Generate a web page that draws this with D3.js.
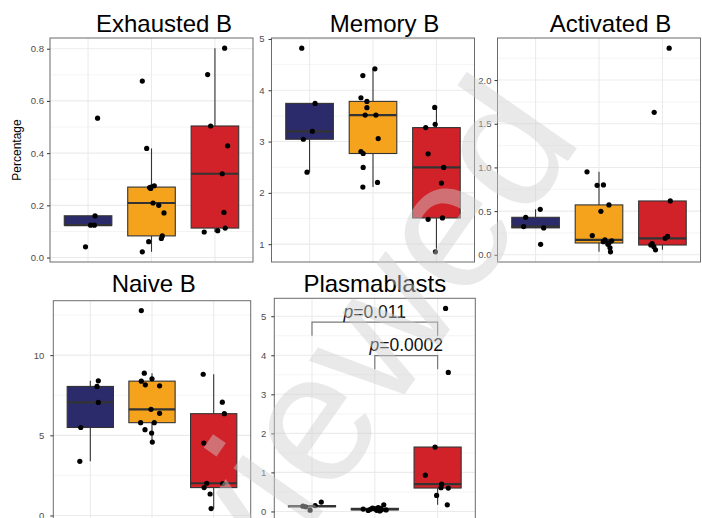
<!DOCTYPE html>
<html>
<head>
<meta charset="utf-8">
<script src="https://cdn.jsdelivr.net/npm/d3@7"></script>
<style>
  body { margin: 0; background: #fff; }
  svg { display: block; }
  text { font-family: "Liberation Sans", Arial, Helvetica, sans-serif; }
</style>
</head>
<body>
<svg id="chart" width="702" height="518"></svg>
<script>
// ---- groups -------------------------------------------------------------
const groups = ["Group 1", "Group 2", "Group 3"];
const groupColors = ["#2B2A6B", "#F5A31D", "#D12229"];

// ---- per-panel values (percentage of B cells), one array per group ------
const exhaustedB = [
  [0.534, 0.160, 0.124, 0.124, 0.041],
  [0.676, 0.418, 0.275, 0.270, 0.268, 0.265, 0.209, 0.200, 0.171, 0.083, 0.073, 0.061, 0.022],
  [0.802, 0.701, 0.504, 0.428, 0.321, 0.173, 0.113, 0.103, 0.098]
];
const memoryB = [
  [4.82, 3.744, 3.200, 3.045, 2.404],
  [4.417, 4.287, 3.854, 3.783, 3.660, 3.517, 3.517, 3.058, 2.806, 2.767, 2.495, 2.204, 2.113],
  [3.665, 3.336, 3.272, 2.760, 2.495, 2.190, 1.511, 1.485, 0.851]
];
const activatedB = [
  [0.520, 0.429, 0.323, 0.308, 0.120],
  [0.950, 0.800, 0.795, 0.571, 0.497, 0.220, 0.170, 0.160, 0.150, 0.135, 0.120, 0.080, 0.034],
  [2.365, 1.631, 0.616, 0.210, 0.189, 0.128, 0.112, 0.091, 0.057]
];
const naiveB = [
  [8.40, 8.05, 7.05, 5.49, 3.38],
  [12.78, 8.88, 8.53, 8.38, 8.15, 8.09, 6.62, 6.37, 5.79, 5.79, 5.35, 5.14, 4.58],
  [8.81, 7.07, 6.35, 4.52, 2.01, 1.99, 1.74, 1.34, 0.43]
];
const plasmablasts = [
  [0.24, 0.15, 0.135, 0.12, 0.033],
  [0.169, 0.10, 0.085, 0.08, 0.075, 0.065, 0.06, 0.055, 0.045, 0.04, 0.03, 0.025, 0.015],
  [5.20, 3.56, 1.65, 0.93, 0.70, 0.61, 0.60, 0.41, 0.17]
];

// ---- horizontal jitter of each point (fraction of category spacing) ----
const exhaustedBJitter = [
  [0.15, 0.11, 0.04, 0.10, -0.04],
  [-0.145, -0.076, 0.044, -0.008, -0.03, -0.013, 0.024, 0.114, 0.197, 0.17, 0.155, -0.044, -0.145],
  [0.153, -0.115, -0.068, 0.2, 0.115, 0.142, 0.162, 0.043, -0.169]
];
const memoryBJitter = [
  [-0.123, 0.087, 0.044, -0.098, -0.04],
  [0.03, -0.16, -0.19, -0.096, -0.096, -0.123, 0.046, 0.082, -0.19, -0.155, -0.155, 0.071, -0.16],
  [-0.027, -0.02, -0.169, -0.131, 0.115, 0.079, 0.095, -0.131, -0.016]
];
const activatedBJitter = [
  [0.074, -0.156, -0.187, 0.128, 0.08],
  [-0.189, 0.07, -0.03, 0.157, 0.03, -0.106, 0.094, 0.2, 0.068, 0.157, 0.14, 0.173, 0.181],
  [0.106, -0.13, 0.124, 0.08, 0.043, -0.162, -0.183, -0.135, -0.109]
];
const naiveBJitter = [
  [0.13, 0.108, 0.13, -0.155, -0.17],
  [-0.173, -0.125, 0, -0.173, -0.108, 0.123, -0.016, 0.123, -0.184, 0.037, -0.113, -0.006, 0.005],
  [-0.17, 0.14, 0.173, -0.16, -0.113, 0.146, -0.155, -0.058, -0.042]
];
const plasmablastsJitter = [
  [0.148, 0.05, -0.145, -0.1, -0.03],
  [0.143, 0.054, -0.037, 0.09, -0.016, 0.02, -0.185, -0.07, 0.107, 0.18, 0.03, -0.105, 0.08],
  [0.127, 0.17, -0.041, -0.196, 0.064, 0.054, 0.17, -0.016, 0.154]
];

// ---- y-axis tick values -------------------------------------------------
const exhaustedBTicks = [0, 0.2, 0.4, 0.6, 0.8];
const memoryBTicks = [1, 2, 3, 4, 5];
const activatedBTicks = [0, 0.5, 1, 1.5, 2];
const naiveBTicks = [0, 5, 10];
const plasmablastsTicks = [0, 1, 2, 3, 4, 5];

// ---- pairwise tests shown on the plasmablast panel ----------------------
const plasmaComparisons = [
  { from: 0, to: 2, y: 4.85, p: "0.011" },
  { from: 1, to: 2, y: 3.99, p: "0.0002" }
];
const bracketTip = 0.35;

// ---- panel layout -------------------------------------------------------
const panels = [
  { title: "Exhausted B", values: exhaustedB, jitter: exhaustedBJitter, ticks: exhaustedBTicks, fmt: ".1f",
    x0: 50, x1: 253, y0: 38, y1: 262, titleX: 164, titleY: 32, pad: 3, ylab: "Percentage" },
  { title: "Memory B", values: memoryB, jitter: memoryBJitter, ticks: memoryBTicks, fmt: "d",
    x0: 271.5, x1: 474.5, y0: 38, y1: 262, titleX: 384.5, titleY: 32, pad: 4 },
  { title: "Activated B", values: activatedB, jitter: activatedBJitter, ticks: activatedBTicks, fmt: ".1f",
    x0: 497.5, x1: 700.5, y0: 38, y1: 262, titleX: 610.5, titleY: 32, pad: 3 },
  { title: "Naive B", values: naiveB, jitter: naiveBJitter, ticks: naiveBTicks, fmt: "d",
    x0: 53.3, x1: 250.7, y0: 300.7, y1: 518.5, titleX: 153.7, titleY: 292, pad: 6 },
  { title: "Plasmablasts", values: plasmablasts, jitter: plasmablastsJitter, ticks: plasmablastsTicks, fmt: "d",
    x0: 274.3, x1: 475.3, y0: 298.3, y1: 521, titleX: 374.8, titleY: 292, pad: 5,
    comparisons: plasmaComparisons }
];

const svg = d3.select("#chart");
const gridColor = "#EBEBEB";
const inkColor = "#333333";

function boxStats(vals) {
  const s = vals.slice().sort(d3.ascending);
  const q1 = d3.quantile(s, 0.25), med = d3.quantile(s, 0.5), q3 = d3.quantile(s, 0.75);
  const iqr = q3 - q1;
  const lo = d3.min(s.filter(v => v >= q1 - 1.5 * iqr));
  const hi = d3.max(s.filter(v => v <= q3 + 1.5 * iqr));
  return { q1, med, q3, lo, hi };
}

panels.forEach((p, pi) => {
  const all = p.values.flat();
  const [mn, mx] = d3.extent(all);
  const padY = (mx - mn) * 0.05;
  const y = d3.scaleLinear().domain([mn - padY, mx + padY]).range([p.y1, p.y0]);
  // discrete x with 0.6 units of padding on each side
  const x = d3.scaleLinear().domain([-0.6, groups.length - 0.4]).range([p.x0, p.x1]);
  const step = x(1) - x(0);

  const clipId = "clip" + pi;
  svg.append("clipPath").attr("id", clipId)
    .append("rect").attr("x", p.x0).attr("y", p.y0)
    .attr("width", p.x1 - p.x0).attr("height", p.y1 - p.y0);

  const g = svg.append("g");
  const inner = g.append("g").attr("clip-path", `url(#${clipId})`);

  inner.append("rect").attr("x", p.x0).attr("y", p.y0)
    .attr("width", p.x1 - p.x0).attr("height", p.y1 - p.y0).attr("fill", "#fff");

  // minor horizontal grid
  const tStep = p.ticks[1] - p.ticks[0];
  const minor = [];
  for (let t = p.ticks[0] - tStep / 2; t <= y.domain()[1]; t += tStep) {
    if (t >= y.domain()[0]) minor.push(t);
  }
  inner.selectAll(".minor").data(minor).join("line")
    .attr("x1", p.x0).attr("x2", p.x1)
    .attr("y1", d => y(d)).attr("y2", d => y(d))
    .attr("stroke", gridColor).attr("stroke-width", 0.55);

  // major grid
  inner.selectAll(".major").data(p.ticks).join("line")
    .attr("x1", p.x0).attr("x2", p.x1)
    .attr("y1", d => y(d)).attr("y2", d => y(d))
    .attr("stroke", gridColor).attr("stroke-width", 1.1);
  inner.selectAll(".vmajor").data(groups).join("line")
    .attr("x1", (d, i) => x(i)).attr("x2", (d, i) => x(i))
    .attr("y1", p.y0).attr("y2", p.y1)
    .attr("stroke", gridColor).attr("stroke-width", 1.1);

  // boxes
  const stats = p.values.map(boxStats);
  const bw = step * 0.75;
  stats.forEach((s, i) => {
    inner.append("line")
      .attr("x1", x(i)).attr("x2", x(i))
      .attr("y1", y(s.hi)).attr("y2", y(s.q3))
      .attr("stroke", inkColor).attr("stroke-width", 1.1);
    inner.append("line")
      .attr("x1", x(i)).attr("x2", x(i))
      .attr("y1", y(s.q1)).attr("y2", y(s.lo))
      .attr("stroke", inkColor).attr("stroke-width", 1.1);
    inner.append("rect")
      .attr("x", x(i) - bw / 2).attr("width", bw)
      .attr("y", y(s.q3)).attr("height", Math.max(0.5, y(s.q1) - y(s.q3)))
      .attr("fill", groupColors[i]).attr("stroke", inkColor).attr("stroke-width", 1.1);
    inner.append("line")
      .attr("x1", x(i) - bw / 2).attr("x2", x(i) + bw / 2)
      .attr("y1", y(s.med)).attr("y2", y(s.med))
      .attr("stroke", inkColor).attr("stroke-width", 2.2);
  });

  // jittered points
  const pts = [];
  p.values.forEach((arr, i) => arr.forEach((v, k) => pts.push({ i, v, j: p.jitter[i][k] })));
  inner.selectAll(".pt").data(pts).join("circle")
    .attr("cx", d => x(d.i + d.j)).attr("cy", d => y(d.v))
    .attr("r", 2.6).attr("fill", "#000");

  // panel border
  g.append("rect").attr("x", p.x0).attr("y", p.y0)
    .attr("width", p.x1 - p.x0).attr("height", p.y1 - p.y0)
    .attr("fill", "none").attr("stroke", "#6b6b6b").attr("stroke-width", 1);

  // y axis
  const axis = d3.axisLeft(y).tickValues(p.ticks).tickSize(3).tickPadding(p.pad)
    .tickFormat(d3.format(p.fmt));
  const ax = g.append("g").attr("transform", `translate(${p.x0},0)`).call(axis);
  ax.select(".domain").remove();
  ax.selectAll(".tick line").attr("stroke", inkColor).attr("stroke-width", 1);
  ax.selectAll(".tick text").attr("fill", "#4D4D4D").attr("font-size", "9.5px")
    .attr("font-family", "'Liberation Sans', Arial, Helvetica, sans-serif");

  // title
  g.append("text").attr("x", p.titleX).attr("y", p.titleY)
    .attr("text-anchor", "middle").attr("font-size", "24px").attr("fill", "#000")
    .text(p.title);

  if (p.ylab) {
    g.append("text")
      .attr("transform", `translate(21,${(p.y0 + p.y1) / 2}) rotate(-90)`)
      .attr("text-anchor", "middle").attr("font-size", "12px").attr("fill", "#000")
      .text(p.ylab);
  }

  // significance brackets
  (p.comparisons || []).forEach(c => {
    const xa = x(c.from), xb = x(c.to);
    g.append("path")
      .attr("d", `M${xa},${y(c.y - bracketTip)}V${y(c.y)}H${xb}V${y(c.y - bracketTip)}`)
      .attr("fill", "none").attr("stroke", "#7a7a7a").attr("stroke-width", 1.2);
    const t = g.append("text")
      .attr("x", (xa + xb) / 2).attr("y", y(c.y) - 4.5)
      .attr("text-anchor", "middle").attr("font-size", "17.5px").attr("fill", "#111");
    t.append("tspan").attr("font-style", "italic").text("p");
    t.append("tspan").text("=" + c.p);
  });
});

// watermark
svg.append("text")
  .attr("transform", "translate(159,745) rotate(-55)")
  .attr("font-size", "185px")
  .attr("fill", "#d0d0d0")
  .attr("opacity", 0.45)
  .text("reviewed");
</script>
</body>
</html>
